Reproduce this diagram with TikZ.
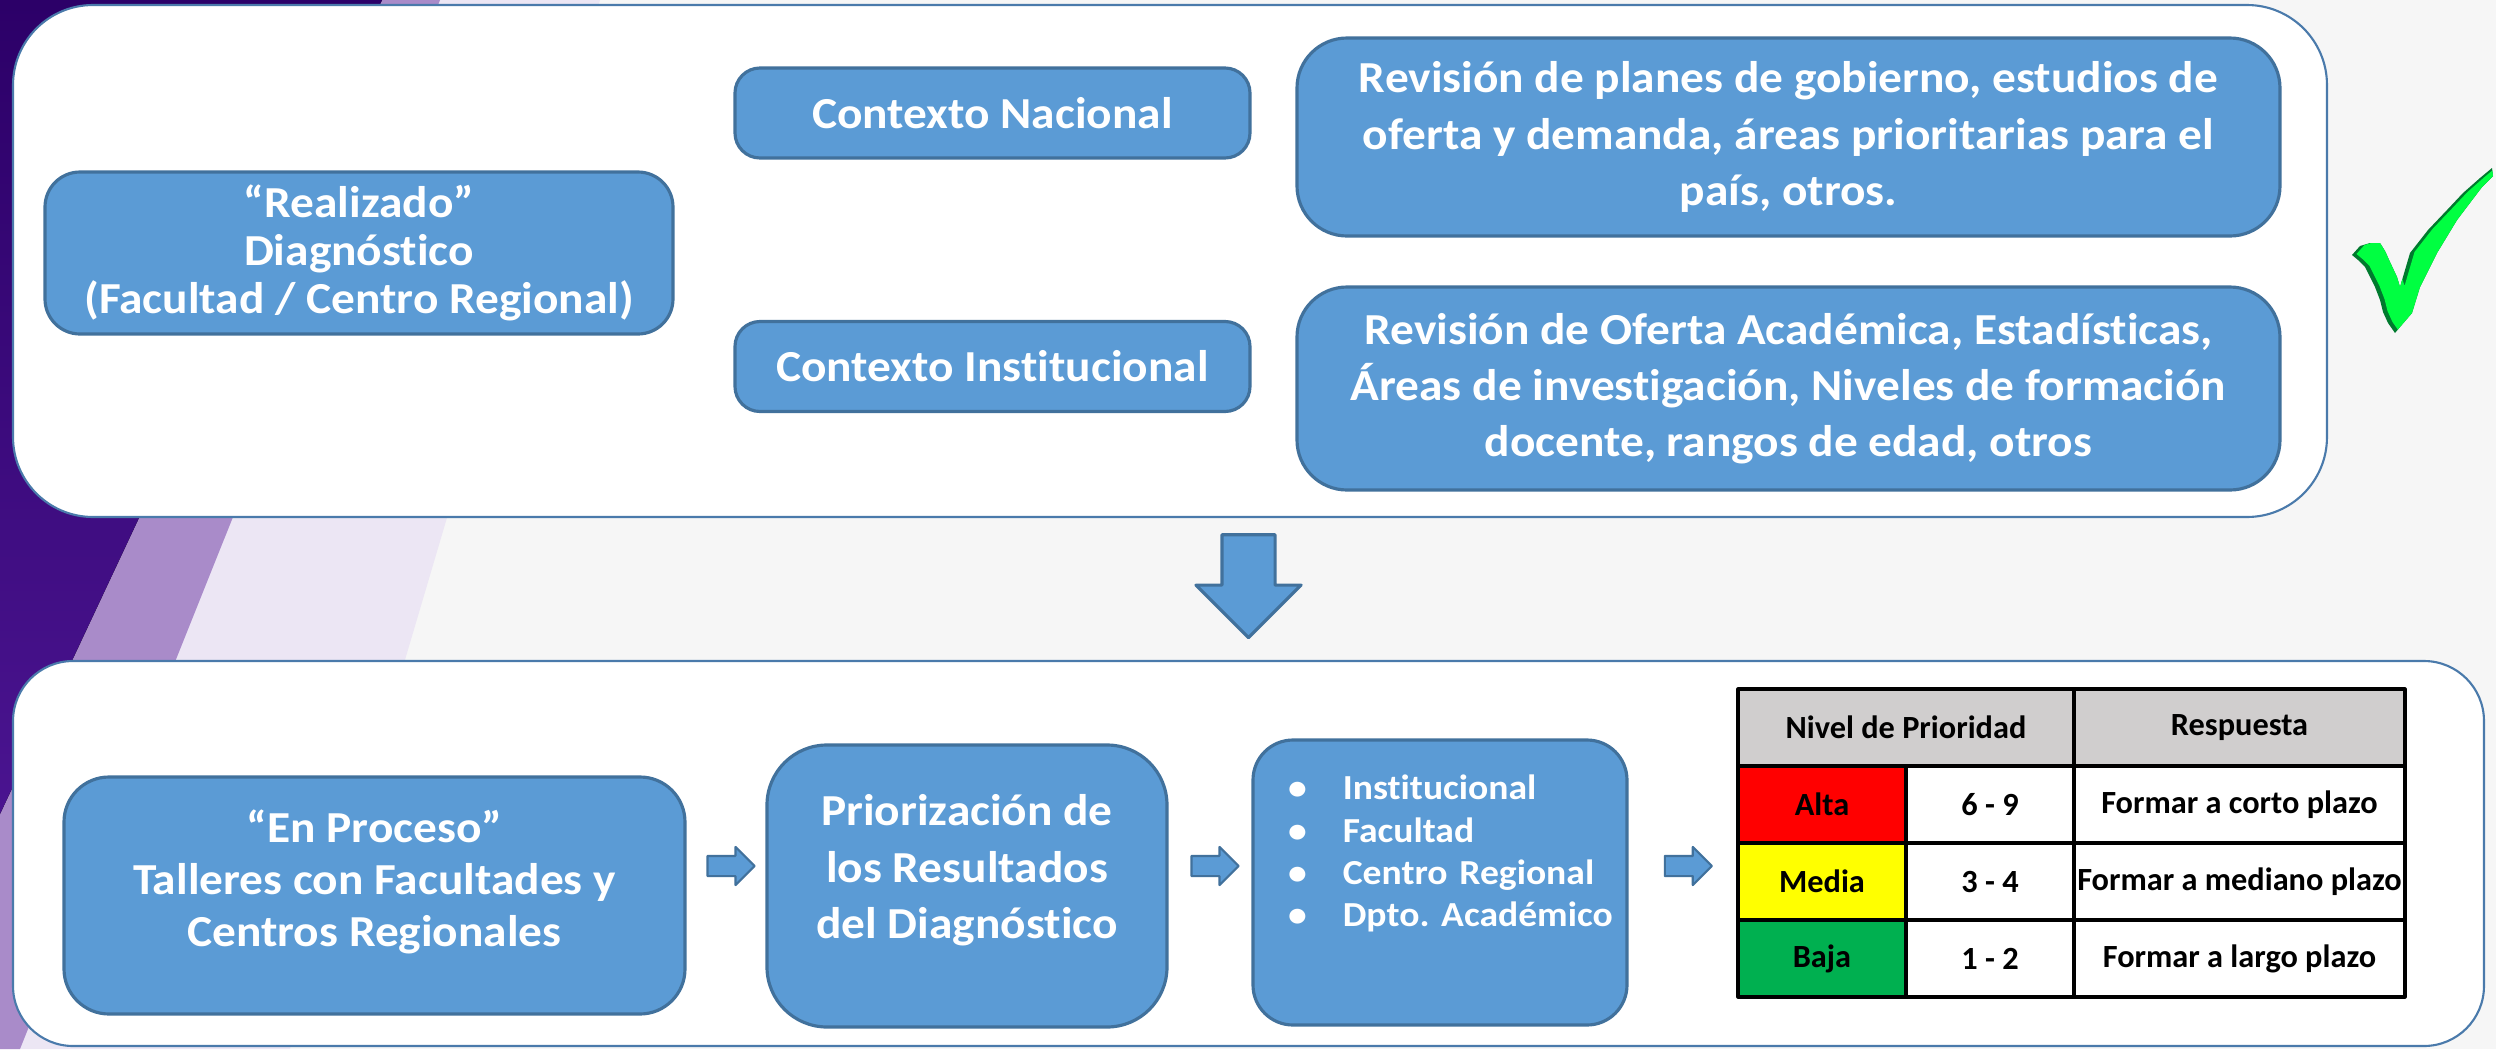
\documentclass[tikz,border=0pt]{standalone}
\usepackage{fontspec}
\setmainfont{Carlito}[Ligatures=NoCommon]
\newfontfamily\boxfont{Carlito}[FakeStretch=1.07, Ligatures=NoCommon]
\usepackage{tikz}
\usetikzlibrary{shapes.arrows, calc, positioning}
\frenchspacing

\definecolor{BoxBlue}{HTML}{5B9BD5}
\definecolor{BoxLine}{HTML}{41719C}
\definecolor{FrameLine}{HTML}{4A7AAB}
\definecolor{PageGray}{HTML}{F6F6F6}
\definecolor{IonDark}{HTML}{2C0068}
\definecolor{IonViolet}{HTML}{4A1490}
\definecolor{IonMid}{HTML}{A98BC9}
\definecolor{IonPale}{HTML}{ECE6F4}
\definecolor{TabGray}{HTML}{D0CECE}
\definecolor{PrioRed}{HTML}{FF0000}
\definecolor{PrioYellow}{HTML}{FFFF00}
\definecolor{PrioGreen}{HTML}{00B050}
\definecolor{TickLight}{HTML}{00FF41}
\definecolor{TickDark}{HTML}{007A2E}

\newcommand{\BulItem}[1]{\mbox{\makebox[15.6pt][l]{\textbullet}#1}}
% empty last line, lifts the text block a little
\newcommand{\Lift}[1]{\\[#1]\mbox{}}
\def\TickPath{(2352,255) -- (2360,246) -- (2370,243) -- (2380,243) -- (2385,251) -- (2390,262) -- (2397,277) -- (2400,287)
	-- (2410,253) -- (2428,230) -- (2447,210) -- (2463,193) -- (2480,178) -- (2492,168) -- (2493,176)
	-- (2482,187) -- (2457,220) -- (2437,253) -- (2420,287) -- (2412,313) -- (2400,327) -- (2395,333)
	-- (2388,323) -- (2383,312) -- (2380,300) -- (2375,287) -- (2370,277) -- (2365,267) -- (2358,260) -- cycle}

\begin{document}
\begin{tikzpicture}[x=0.1mm, y=-0.1mm, line join=round,
	panel/.style={draw=FrameLine, line width=0.6pt, fill=white, rounded corners=8mm, inner sep=0pt},
	bluebox/.style={draw=BoxLine, line width=0.9pt, fill=BoxBlue, text=white, rounded corners=4mm,
		align=center, inner sep=0pt, font=\boxfont\bfseries\fontsize{12.6}{16}\selectfont},
	smallarrow/.style={single arrow, draw=BoxLine, fill=BoxBlue, line width=0.6pt, inner xsep=0pt,
		inner ysep=0.9mm, single arrow head extend=0.9mm, minimum height=4.7mm},
	bigarrow/.style={smallarrow, inner xsep=2.5mm, inner ysep=2.5mm, single arrow head extend=2.6mm,
		minimum height=10.3mm, line width=0.9pt, shape border rotate=270},
	cell/.style={draw=black, line width=0.9pt, anchor=north west, inner sep=0pt, outer sep=0pt,
		minimum height=7.7mm, font=\bfseries\fontsize{9.2}{11}\selectfont}
	]

	\useasboundingbox (0,0) rectangle (2496,1049);
	\fill[PageGray] (0,0) rectangle (2496,1049);

	% stripes on the left
	\fill[IonPale] (0,0) -- (600,0) -- (290,1049) -- (0,1049) -- cycle;
	\fill[IonMid] (0,0) -- (440,0) -- (20,1049) -- (0,1049) -- cycle;
	\fill[top color=IonDark, bottom color=IonViolet] (0,0) -- (382,0) -- (0,814) -- cycle;

	\node[panel, minimum width=231.4mm, minimum height=51.2mm] (Top) at (1170,261) {};
	\node[panel, minimum width=247.1mm, minimum height=38.5mm, rounded corners=6mm] (Bot) at (1248.5,853.5) {};

	% first stage
	\node[bluebox, minimum width=62.8mm, minimum height=16.2mm, rounded corners=3.5mm,
		font=\boxfont\bfseries\fontsize{12.6}{13.6}\selectfont] (Real) at (359,253)
		{“Realizado”\\Diagnóstico\\(Facultad / Centro Regional)};
	\node[bluebox, minimum width=51.5mm, minimum height=9mm, rounded corners=2.5mm] (Nac) at (992.5,113) {Contexto Nacional};
	\node[bluebox, minimum width=51.5mm, minimum height=9mm, rounded corners=2.5mm] (Inst) at (992.5,366.5) {Contexto Institucional};
	\node[bluebox, minimum width=98.3mm, minimum height=19.8mm, rounded corners=5mm] (RevN) at (1788.5,137)
		{Revisión de planes de gobierno, estudios de\\oferta y demanda, áreas prioritarias para el\\país, otros.};
	\node[bluebox, minimum width=98.3mm, minimum height=20.3mm, rounded corners=5mm] (RevI) at (1788.5,388.5)
		{Revisión de Oferta Académica, Estadísticas,\\Áreas de investigación, Niveles de formación\\docente, rangos de edad, otros};

	\begin{scope}
		\fill[TickDark] \TickPath;
		\clip \TickPath;
		\fill[TickLight, xshift=0.45mm, yshift=0.1mm] \TickPath;
	\end{scope}

	\node[bigarrow, anchor=tip] (Dn) at ($(Bot.north)+(0,-20)$) {};

	% second stage
	\node[bluebox, minimum width=62.1mm, minimum height=23.7mm, rounded corners=4.5mm,
		font=\boxfont\bfseries\fontsize{12.6}{14.8}\selectfont] (Proc) at (374.5,895.5)
		{“En Proceso”\\Talleres con Facultades y\\Centros Regionales\Lift{-5pt}};
	\node[bluebox, minimum width=40mm, minimum height=28.2mm, rounded corners=6mm] (Prio) at (967,886)
		{Priorización de\\los Resultados\\del Diagnóstico\Lift{-5pt}};
	\node[bluebox, minimum width=37.4mm, minimum height=28.5mm, text width=30.4mm, align=left,
		font=\boxfont\bfseries\fontsize{10}{12}\selectfont] (Bul) at (1440,882.5)
		{\BulItem{Institucional}\\\BulItem{Facultad}\\\BulItem{Centro Regional}\\\BulItem{Dpto. Académico}\Lift{6pt}};

	\node[cell, fill=TabGray, minimum width=33.6mm] (Niv) at (1738,689) {Nivel de Prioridad};
	\node[cell, fill=TabGray, minimum width=33.1mm] (Resp) at (Niv.north east) {Respuesta};
	\foreach \lvl/\col/\rng/\resp [count=\i] in {Alta/PrioRed/6 - 9/Formar a corto plazo,
		Media/PrioYellow/3 - 4/Formar a mediano plazo, Baja/PrioGreen/1 - 2/Formar a largo plazo}
	{
		\node[cell, fill=\col, minimum width=16.8mm] (L\i) at ($(Niv.south west)+(0,{(\i-1)*77})$) {\lvl};
		\node[cell, fill=white, minimum width=16.8mm] (N\i) at (L\i.north east) {\rng};
		\node[cell, fill=white, minimum width=33.1mm] (R\i) at (N\i.north east) {\resp};
	}

	\coordinate (Lane) at (0,866);
	\path ($(Proc.east)!0.5!(Prio.west)$) coordinate (m1)
		($(Prio.east)!0.5!(Bul.west)$) coordinate (m2)
		($(Bul.east)!0.5!(Niv.west)$) coordinate (m3);
	\foreach \m in {1,2,3}
		\node[smallarrow] (A\m) at (m\m |- Lane) {};

\end{tikzpicture}
\end{document}
